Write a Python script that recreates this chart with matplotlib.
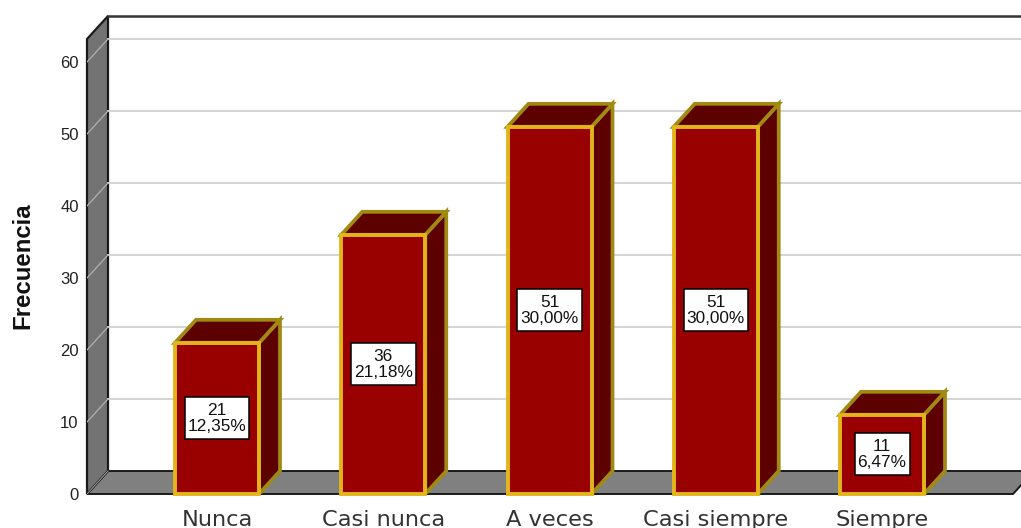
import matplotlib
matplotlib.use("Agg")
import matplotlib.pyplot as plt
from matplotlib.patches import Polygon, Rectangle

categories = ["Nunca", "Casi nunca", "A veces", "Casi siempre", "Siempre"]
frequencies = [21, 36, 51, 51, 11]
percent_labels = ["12,35%", "21,18%", "30,00%", "30,00%", "6,47%"]
y_ticks = [0, 10, 20, 30, 40, 50, 60]

W, H = 1021, 528
PX_X = 166.25           # pixels per category
PX_Y = 7.2              # pixels per frequency unit
X0, Y0 = 217, 494       # pixel location of first category / zero
LEFT = 87
DX = 21 / PX_X          # depth offset
DY = 23 / PX_Y
BAR_W = 84 / PX_X
WALL_TOP = (Y0 - 16 - 23) / PX_Y   # front-plane top of the wall
RIGHT = (1013 - X0) / PX_X

fig = plt.figure(figsize=(W / 100, H / 100), dpi=100, facecolor="white")
ax = fig.add_axes([LEFT / W, (H - Y0) / H, (W - LEFT) / W, Y0 / H])
ax.set_xlim((LEFT - X0) / PX_X, (W - X0) / PX_X)
ax.set_ylim(0, Y0 / PX_Y)
for s in ax.spines.values():
    s.set_visible(False)
ax.patch.set_visible(False)
xl = ax.get_xlim()[0]

# floor + left wall
ax.add_patch(Polygon([(xl, 0), (xl + DX, DY), (RIGHT + DX, DY), (RIGHT, 0)], closed=True,
                     fc="#808080", ec="#1a1a1a", lw=1.4, clip_on=False, zorder=1))
ax.add_patch(Polygon([(xl, 0), (xl, WALL_TOP), (xl + DX, WALL_TOP + DY), (xl + DX, DY)], closed=True,
                     fc="#737373", ec="#1a1a1a", lw=1.6, clip_on=False, zorder=1.1))
ax.plot([xl + DX, 10], [WALL_TOP + DY, WALL_TOP + DY], color="#333333", lw=1.8, clip_on=False, zorder=1.2)

# grid
for t in y_ticks[1:]:
    ax.plot([xl + DX, 10], [t + DY, t + DY], color="#d4d4d4", lw=1.4, zorder=1.3, clip_on=False)
    ax.plot([xl, xl + DX], [t, t + DY], color="#b0b0b0", lw=0.9, zorder=1.3)
ax.plot([xl, xl + DX], [0, DY], color="#a0a0a0", lw=0.7, zorder=1.3)

# bars
GOLD = "#e2b51c"
OLIVE = "#a08a14"
renderer = fig.canvas.get_renderer()
for i, v in enumerate(frequencies):
    l, r = i - BAR_W / 2, i + BAR_W / 2
    ax.add_patch(Polygon([(r, 0), (r + DX, DY), (r + DX, v + DY), (r, v)], closed=True,
                         fc="#5c0000", ec=OLIVE, lw=2.7, zorder=3, joinstyle="miter"))
    ax.add_patch(Polygon([(l, v), (l + DX, v + DY), (r + DX, v + DY), (r, v)], closed=True,
                         fc="#5c0000", ec=OLIVE, lw=2.7, zorder=3, joinstyle="miter"))
    ax.add_patch(Rectangle((l, 0), BAR_W, v, fc="#990000", ec=GOLD, lw=2.8, zorder=4,
                           clip_on=False, joinstyle="miter"))
    txt = ax.text(i, v / 2, f"{v}\n{percent_labels[i]}", ha="center", va="center", fontsize=12.4,
                  family="Liberation Sans", color="#111111", linespacing=1.03, zorder=6)
    ext = txt.get_window_extent(renderer)
    bw = (ext.width + 6) / PX_X
    bh = 42 / PX_Y
    ax.add_patch(Rectangle((i - bw / 2, v / 2 - bh / 2), bw, bh, fc="white", ec="black",
                           lw=1.1, zorder=5))

ax.set_yticks(y_ticks)
ax.set_xticks(range(len(categories)), categories)
ax.tick_params(axis="y", length=0, pad=6, labelsize=12, labelcolor="#222222")
ax.tick_params(axis="x", length=0, pad=11.5, labelsize=16.2, labelcolor="#333333")
for lab in ax.get_yticklabels():
    lab.set_family("Liberation Sans")
for lab in ax.get_xticklabels():
    lab.set_family("DejaVu Sans")
fig.text(23 / W, 1 - 266 / H, "Frecuencia", rotation=90, ha="center", va="center",
         fontsize=17.3, fontweight="bold", family="Liberation Sans", color="#111111")

fig.savefig("out.png", dpi=100)
